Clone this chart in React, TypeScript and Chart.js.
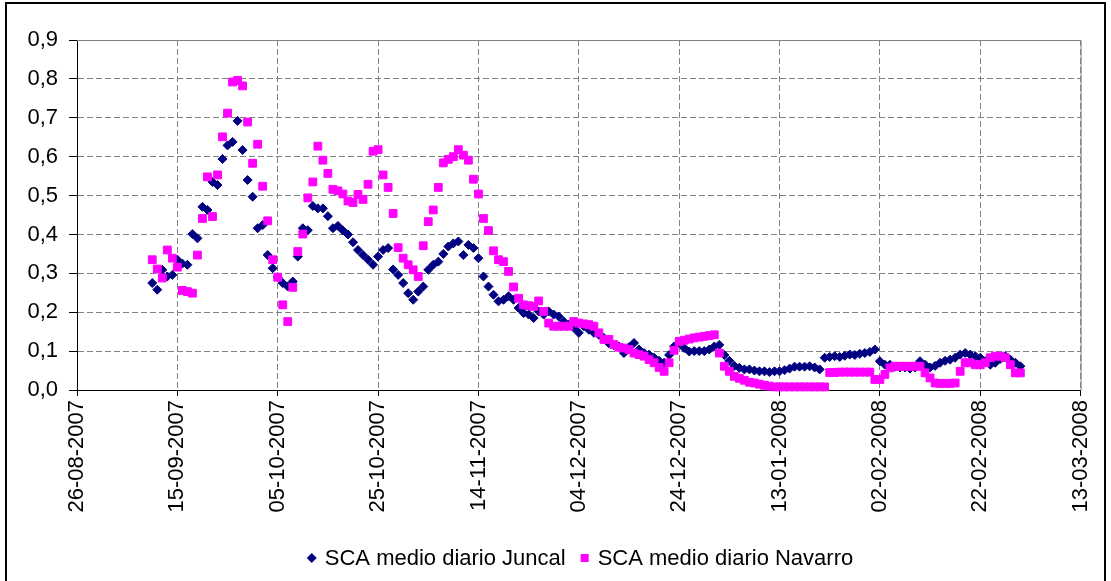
import React, { useEffect, useRef } from "react";
import { Chart, registerables } from "chart.js";

Chart.register(...registerables);

// x axis: days since 26-08-2007, one tick every 20 days
const xTickLabels = [
  "26-08-2007", "15-09-2007", "05-10-2007", "25-10-2007", "14-11-2007", "04-12-2007",
  "24-12-2007", "13-01-2008", "02-02-2008", "22-02-2008", "13-03-2008",
];
const yTickLabels = ["0,0", "0,1", "0,2", "0,3", "0,4", "0,5", "0,6", "0,7", "0,8", "0,9"];
const seriesNames = ["SCA medio diario Juncal", "SCA medio diario Navarro"];
const firstDay = 15; // 10-09-2007, one value per day afterwards

const juncal = [
  0.275, 0.258, 0.309, 0.292, 0.296, 0.335, 0.325, 0.322, 0.401, 0.39,
  0.471, 0.463, 0.535, 0.527, 0.594, 0.629, 0.638, 0.692, 0.617, 0.54,
  0.497, 0.416, 0.424, 0.347, 0.313, 0.29, 0.275, 0.266, 0.279, 0.343,
  0.416, 0.411, 0.473, 0.467, 0.467, 0.447, 0.416, 0.422, 0.41, 0.4,
  0.38, 0.36, 0.347, 0.335, 0.322, 0.343, 0.36, 0.365, 0.31, 0.296,
  0.275, 0.249, 0.232, 0.253, 0.266, 0.309, 0.322, 0.33, 0.35, 0.369,
  0.377, 0.382, 0.347, 0.373, 0.365, 0.339, 0.292, 0.266, 0.245, 0.228,
  0.232, 0.241, 0.232, 0.211, 0.198, 0.194, 0.185, 0.202, 0.194, 0.202,
  0.194, 0.189, 0.176, 0.168, 0.16, 0.147, 0.164, 0.155, 0.147, 0.142,
  0.134, 0.12, 0.115, 0.112, 0.095, 0.11, 0.121, 0.104, 0.095, 0.091,
  0.083, 0.075, 0.07, 0.09, 0.112, 0.121, 0.108, 0.099, 0.1, 0.1,
  0.1, 0.104, 0.112, 0.116, 0.09, 0.075, 0.062, 0.057, 0.053, 0.053,
  0.05, 0.048, 0.048, 0.046, 0.048, 0.048, 0.051, 0.055, 0.06, 0.06,
  0.06, 0.061, 0.058, 0.053, 0.083, 0.085, 0.087, 0.085, 0.088, 0.091,
  0.09, 0.093, 0.095, 0.098, 0.104, 0.074, 0.065, 0.065, 0.06, 0.058,
  0.058, 0.055, 0.058, 0.074, 0.065, 0.058, 0.062, 0.07, 0.075, 0.078,
  0.083, 0.091, 0.095, 0.091, 0.087, 0.083, 0.074, 0.065, 0.07, 0.08,
  0.087, 0.078, 0.07, 0.061,
];

const navarro = [
  0.335, 0.311, 0.288, 0.36, 0.339, 0.316, 0.256, 0.253, 0.249, 0.347,
  0.441, 0.548, 0.446, 0.553, 0.651, 0.712, 0.792, 0.796, 0.782, 0.689,
  0.583, 0.632, 0.524, 0.435, 0.335, 0.29, 0.219, 0.176, 0.264, 0.356,
  0.401, 0.494, 0.535, 0.627, 0.591, 0.557, 0.516, 0.512, 0.504, 0.486,
  0.482, 0.503, 0.49, 0.529, 0.614, 0.618, 0.553, 0.521, 0.454, 0.366,
  0.339, 0.322, 0.309, 0.292, 0.371, 0.433, 0.463, 0.521, 0.584, 0.593,
  0.6, 0.618, 0.604, 0.591, 0.542, 0.504, 0.441, 0.41, 0.358, 0.335,
  0.33, 0.305, 0.265, 0.236, 0.219, 0.217, 0.215, 0.229, 0.202, 0.172,
  0.164, 0.164, 0.164, 0.164, 0.176, 0.172, 0.17, 0.168, 0.164, 0.147,
  0.13, 0.13, 0.117, 0.11, 0.108, 0.104, 0.095, 0.091, 0.087, 0.078,
  0.07, 0.058, 0.048, 0.07, 0.102, 0.125, 0.128, 0.131, 0.134, 0.136,
  0.138, 0.14, 0.142, 0.095, 0.061, 0.048, 0.035, 0.03, 0.025, 0.02,
  0.018, 0.015, 0.012, 0.01, 0.008, 0.008, 0.008, 0.008, 0.008, 0.008,
  0.008, 0.008, 0.008, 0.008, 0.008, 0.045, 0.045, 0.046, 0.046, 0.046,
  0.046, 0.046, 0.046, 0.046, 0.027, 0.027, 0.04, 0.057, 0.061, 0.061,
  0.061, 0.061, 0.061, 0.061, 0.044, 0.031, 0.018, 0.017, 0.017, 0.017,
  0.018, 0.048, 0.07, 0.07, 0.065, 0.065, 0.07, 0.083, 0.087, 0.087,
  0.083, 0.065, 0.044, 0.044,
];

const juncalColor = "#000080";
const navarroColor = "#FF00FF";
const FONT = "'Liberation Sans', Arial, sans-serif";
const FONT_SIZE = 22;

const toPoints = (vals: number[]) => vals.map((v, i) => ({ x: firstDay + i, y: v }));

const framePlugin = {
  id: "frame",
  beforeDatasetsDraw(chart: any) {
    const { ctx, chartArea } = chart;
    ctx.save();
    ctx.strokeStyle = "#808080";
    ctx.lineWidth = 1;
    ctx.beginPath();
    ctx.moveTo(chartArea.left, chartArea.top + 0.5);
    ctx.lineTo(chartArea.right + 0.5, chartArea.top + 0.5);
    ctx.lineTo(chartArea.right + 0.5, chartArea.bottom);
    ctx.stroke();
    ctx.restore();
  },
  afterDraw(chart: any) {
    const { ctx } = chart;
    ctx.save();
    // outer chart border
    ctx.strokeStyle = "#000";
    ctx.lineWidth = 2;
    ctx.strokeRect(6, 3, 1099, 700);
    // legend
    ctx.font = `${FONT_SIZE}px ${FONT}`;
    ctx.textBaseline = "middle";
    ctx.fillStyle = "#000";
    const w1 = ctx.measureText(seriesNames[0]).width;
    const w2 = ctx.measureText(seriesNames[1]).width;
    const mk = 10, gap = 8, between = 14;
    const total = mk + gap + w1 + between + mk + gap + w2;
    const cy = 558;
    let x = 580 - total / 2;
    // diamond
    ctx.fillStyle = juncalColor;
    ctx.beginPath();
    ctx.moveTo(x + mk / 2, cy - 5);
    ctx.lineTo(x + mk, cy);
    ctx.lineTo(x + mk / 2, cy + 5);
    ctx.lineTo(x, cy);
    ctx.closePath();
    ctx.fill();
    x += mk + gap;
    ctx.fillStyle = "#000";
    ctx.fillText(seriesNames[0], x, cy + 1);
    x += w1 + between;
    ctx.fillStyle = navarroColor;
    ctx.fillRect(x + 1, cy - 4, 8, 8);
    x += mk + gap;
    ctx.fillStyle = "#000";
    ctx.fillText(seriesNames[1], x, cy + 1);
    ctx.restore();
  },
};

export default function App() {
  const canvasRef = useRef<HTMLCanvasElement | null>(null);

  useEffect(() => {
    const canvas = canvasRef.current;
    if (!canvas) return;
    const chart = new Chart(canvas, {
      type: "scatter",
      data: {
        datasets: [
          {
            label: seriesNames[0],
            data: toPoints(juncal),
            pointStyle: "rectRot",
            pointRadius: 4.5,
            pointBorderWidth: 1,
            backgroundColor: juncalColor,
            borderColor: juncalColor,
            showLine: false,
            clip: false as any,
            order: 2,
          },
          {
            label: seriesNames[1],
            data: toPoints(navarro),
            pointStyle: "rect",
            pointRadius: 5.5,
            pointBorderWidth: 1,
            backgroundColor: navarroColor,
            borderColor: navarroColor,
            showLine: false,
            clip: false as any,
            order: 1,
          },
        ],
      },
      options: {
        responsive: false,
        animation: false,
        events: [],
        layout: { padding: { top: 40, right: 26, bottom: 61, left: 0 } },
        plugins: {
          legend: { display: false },
          tooltip: { enabled: false },
          title: { display: false },
        },
        scales: {
          x: {
            type: "linear",
            min: 0,
            max: 200,
            afterFit: (scale: any) => {
              scale.height = 130;
            },
            ticks: {
              stepSize: 20,
              autoSkip: false,
              minRotation: 90,
              maxRotation: 90,
              padding: 4,
              color: "#000",
              font: { family: FONT, size: FONT_SIZE },
              callback: (v: any) => xTickLabels[Math.round(Number(v) / 20)] ?? "",
            },
            grid: {
              color: "#808080",
              lineWidth: 1,
              tickColor: "#000",
              tickLength: 6,
              tickBorderDash: [],
            },
            border: { display: true, color: "#000", width: 1, dash: [6, 3] },
          },
          y: {
            type: "linear",
            min: 0,
            max: 0.9,
            afterFit: (scale: any) => {
              scale.width = 77;
            },
            ticks: {
              stepSize: 0.1,
              padding: 11,
              color: "#000",
              font: { family: FONT, size: FONT_SIZE },
              callback: (v: any) => yTickLabels[Math.round(Number(v) * 10)] ?? "",
            },
            grid: {
              color: "#808080",
              lineWidth: 1,
              tickColor: "#000",
              tickLength: 8,
              tickBorderDash: [],
            },
            border: { display: true, color: "#000", width: 1, dash: [6, 3] },
          },
        },
      },
      plugins: [framePlugin],
    });
    return () => chart.destroy();
  }, []);

  return (
    <div
      style={{
        position: "fixed",
        left: 0,
        top: 0,
        width: 1111,
        height: 581,
        background: "#fff",
        overflow: "hidden",
      }}
    >
      <canvas ref={canvasRef} width={1111} height={581} style={{ display: "block" }} />
    </div>
  );
}
